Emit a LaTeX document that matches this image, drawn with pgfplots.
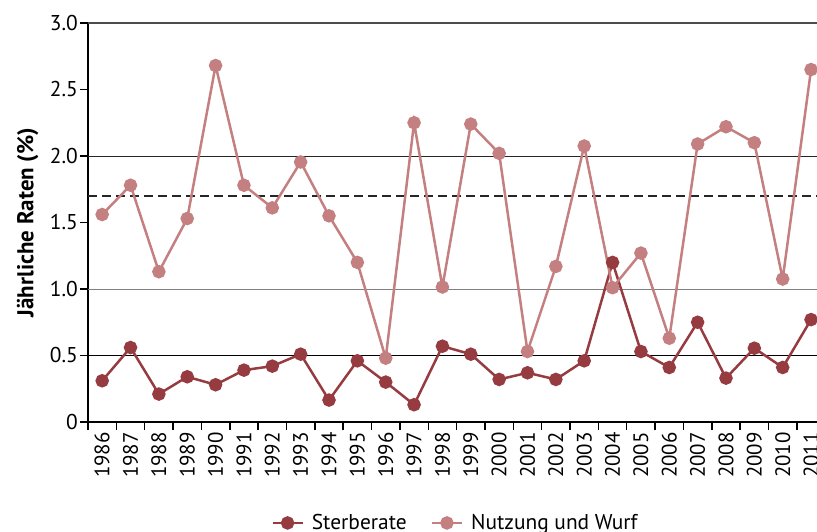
\documentclass[border=0pt]{standalone}
\usepackage{pgfplots}
\pgfplotsset{compat=1.18}
\usepackage{fontspec}
\setmainfont{PT Sans}
\definecolor{dark}{HTML}{963C41}
\definecolor{light}{HTML}{C48080}
\begin{document}
\begin{tikzpicture}
\begin{axis}[
  scale only axis, width=729bp, height=399bp,
  xmin=-0.5, xmax=25.21, ymin=0, ymax=3,
  clip=false,
  axis lines*=left,
  axis line style={line width=1.5bp, black},
  tick align=outside,
  xtick={0,...,25},
  xticklabels={1986,1987,1988,1989,1990,1991,1992,1993,1994,1995,1996,1997,1998,1999,2000,2001,2002,2003,2004,2005,2006,2007,2008,2009,2010,2011},
  major x tick style={draw=none},
  minor xtick={-0.5,0.5,...,24.5},
  minor tick length=8bp,
  minor x tick style={line width=1.5bp, black},
  x tick label style={rotate=90, anchor=east, font=\fontsize{21}{21}\selectfont, inner sep=2bp},
  ytick={0,0.5,1,1.5,2,2.5,3},
  yticklabels={0,0.5,1.0,1.5,2.0,2.5,3.0},
  major tick length=8bp,
  major y tick style={line width=1.5bp, black},
  y tick label style={font=\fontsize{21.5}{21.5}\selectfont, inner sep=2bp},
  ylabel={\bfseries Jährliche Raten (\%)},
  ylabel style={font=\fontsize{23}{23}\selectfont},
  ylabel shift=6bp,
  legend style={at={(0.504,-0.253)}, anchor=center, draw=none, legend columns=2,
    font=\fontsize{21.5}{21.5}\selectfont,
    /tikz/every odd column/.append style={column sep=6bp},
    /tikz/every even column/.append style={column sep=22bp}},
  legend image code/.code={\draw[mark repeat=2,mark phase=2] plot coordinates {(0cm,0cm) (0.53cm,0cm) (1.06cm,0cm)};},
]
\addplot[forget plot, line width=1.8bp, black!70] coordinates {(-0.5,3) (25.21,3)};
\addplot[forget plot, line width=0.9bp, black!85] coordinates {(-0.5,2) (25.21,2)};
\addplot[forget plot, line width=0.9bp, black!50] coordinates {(-0.5,1) (25.21,1)};
\addplot[forget plot, line width=1.2bp, black] coordinates {(-0.5,0.5) (25.21,0.5)};
\addplot[forget plot, line width=1.2bp, black!85, dash pattern=on 9bp off 5bp] coordinates {(-0.5,1.7) (25.21,1.7)};

\addplot[dark, line width=2.5bp, mark=*, mark size=5.5bp] coordinates {
(0,0.31) (1,0.56) (2,0.21) (3,0.34) (4,0.28) (5,0.39) (6,0.42) (7,0.51) (8,0.165) (9,0.46)
(10,0.30) (11,0.13) (12,0.57) (13,0.51) (14,0.32) (15,0.37) (16,0.32) (17,0.46) (18,1.20) (19,0.53)
(20,0.41) (21,0.75) (22,0.33) (23,0.555) (24,0.41) (25,0.77)};
\addlegendentry{Sterberate}
\addplot[light, line width=2.5bp, mark=*, mark size=5.5bp] coordinates {
(0,1.56) (1,1.78) (2,1.13) (3,1.53) (4,2.68) (5,1.78) (6,1.61) (7,1.955) (8,1.55) (9,1.20)
(10,0.48) (11,2.25) (12,1.015) (13,2.24) (14,2.02) (15,0.53) (16,1.17) (17,2.075) (18,1.01) (19,1.27)
(20,0.63) (21,2.09) (22,2.22) (23,2.10) (24,1.075) (25,2.65)};
\addlegendentry{Nutzung und Wurf}
\coordinate (bl) at (rel axis cs:0,0);
\coordinate (tr) at (rel axis cs:1,1);
\end{axis}
\pgfresetboundingbox
\path ([xshift=-88bp,yshift=-110bp]bl) rectangle ([yshift=23bp]tr);
\end{tikzpicture}
\end{document}
